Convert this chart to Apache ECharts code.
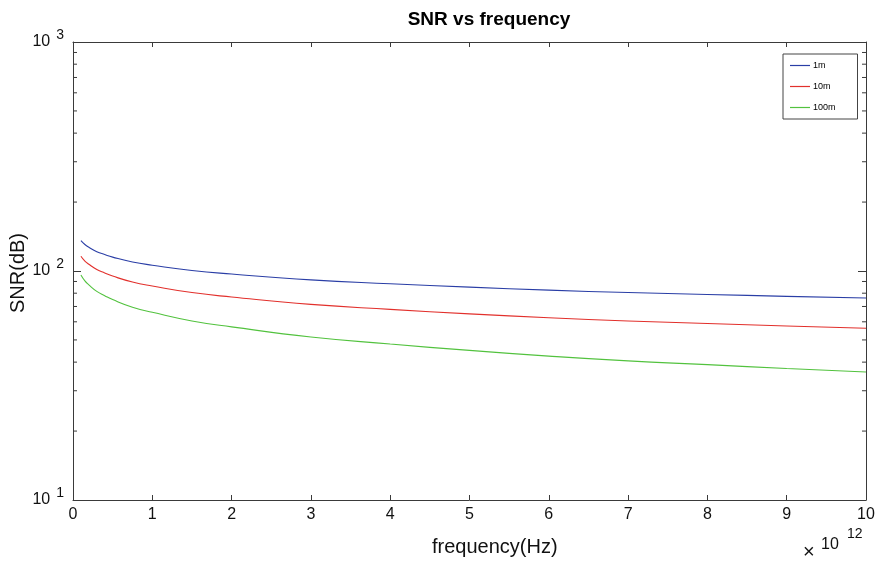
<!DOCTYPE html>
<html>
<head>
<meta charset="utf-8">
<script src="https://cdn.jsdelivr.net/npm/echarts@6/dist/echarts.min.js"></script>
<style>
  html, body { margin: 0; padding: 0; background: #fff; }
  #chart { width: 882px; height: 566px; }
</style>
</head>
<body>
<div id="chart"></div>
<script>
// Frequency samples (in units of 10^12 Hz)
const freqs = [0.1, 0.15, 0.2, 0.3, 0.4, 0.5, 0.75, 1, 1.5, 2, 3, 4, 5, 6, 7, 8, 9, 10];
// SNR (dB) at each distance
const snr1m   = [135.6, 130.5, 127, 121.5, 118, 115, 109.5, 106, 100.5, 97, 91.5, 88, 85, 82.5, 80.5, 79, 77.5, 76.2];
const snr10m  = [116, 110.5, 107, 101.5, 98, 95, 89.5, 86, 80.5, 77, 71.5, 68, 65, 62.5, 60.5, 59, 57.5, 56.2];
const snr100m = [96, 90.5, 87, 81.5, 78, 75, 69.5, 66, 60.5, 57, 51.5, 48, 45, 42.5, 40.5, 39, 37.5, 36.2];
const seriesNames = ['1m', '10m', '100m'];
const seriesColors = ['#2a3ea6', '#e2302c', '#52c23e'];
// Log-axis minor tick positions
const minorTicks = [20, 30, 40, 50, 60, 70, 80, 90, 200, 300, 400, 500, 600, 700, 800, 900];

const FONT = '"Liberation Sans", Arial, sans-serif';
const AXIS_COLOR = '#3a3a3a';

const pairs = (ys) => freqs.map((f, i) => [f, ys[i]]);

const lineSeries = [snr1m, snr10m, snr100m].map((ys, i) => ({
  name: seriesNames[i],
  type: 'line',
  data: pairs(ys),
  symbol: 'none',
  smooth: true,
  lineStyle: { width: 1.1, color: seriesColors[i] },
  itemStyle: { color: seriesColors[i] },
  xAxisIndex: 0,
  yAxisIndex: 0,
  z: 3
}));

// Short inward ticks at 2..9 x 10^n on both vertical edges
const minorTickSeries = {
  type: 'custom',
  silent: true,
  xAxisIndex: 0,
  yAxisIndex: 0,
  data: minorTicks.map(v => [0, v]),
  encode: { x: 0, y: 1 },
  renderItem: function (params, api) {
    const cs = params.coordSys;
    const y = api.coord([0, api.value(1)])[1];
    const style = { stroke: AXIS_COLOR, lineWidth: 1 };
    return {
      type: 'group',
      children: [
        { type: 'line', shape: { x1: cs.x, y1: y, x2: cs.x + 4, y2: y }, style: style },
        { type: 'line', shape: { x1: cs.x + cs.width, y1: y, x2: cs.x + cs.width - 4, y2: y }, style: style }
      ]
    };
  },
  z: 4
};

const chart = echarts.init(document.getElementById('chart'), null, { renderer: 'canvas' });

chart.setOption({
  animation: false,
  backgroundColor: '#ffffff',
  textStyle: { fontFamily: FONT },
  title: {
    text: 'SNR vs frequency',
    left: 484,
    textAlign: 'center',
    top: 5,
    textStyle: { fontFamily: FONT, fontSize: 19, fontWeight: 'bold', color: '#000' }
  },
  legend: {
    data: seriesNames,
    orient: 'vertical',
    left: 783,
    top: 54,
    icon: 'rect',
    itemWidth: 20,
    itemHeight: 1.2,
    itemGap: 10,
    padding: [6, 22, 6, 7],
    backgroundColor: '#fff',
    borderColor: '#444',
    borderWidth: 1,
    textStyle: { fontFamily: FONT, fontSize: 9, color: '#000', padding: [0, 0, 0, -2], lineHeight: 11 }
  },
  grid: { left: 73, right: 16, top: 42, bottom: 66, containLabel: false },
  xAxis: [
    {
      type: 'value',
      min: 0,
      max: 10,
      interval: 1,
      position: 'bottom',
      axisLine: { show: true, onZero: false, lineStyle: { color: AXIS_COLOR, width: 1 } },
      axisTick: { show: true, inside: true, length: 5, lineStyle: { color: AXIS_COLOR } },
      axisLabel: { color: '#111', fontSize: 16, fontFamily: FONT, margin: 7 },
      splitLine: { show: false }
    },
    {
      type: 'value',
      min: 0,
      max: 10,
      interval: 1,
      position: 'top',
      axisLine: { show: true, onZero: false, lineStyle: { color: AXIS_COLOR, width: 1 } },
      axisTick: { show: true, inside: true, length: 5, lineStyle: { color: AXIS_COLOR } },
      axisLabel: { show: false },
      splitLine: { show: false }
    }
  ],
  yAxis: [
    {
      type: 'log',
      logBase: 10,
      min: 10,
      max: 1000,
      position: 'left',
      axisLine: { show: true, onZero: false, lineStyle: { color: AXIS_COLOR, width: 1 } },
      axisTick: { show: true, inside: true, length: 8, lineStyle: { color: AXIS_COLOR } },
      axisLabel: {
        margin: 9,
        formatter: function (v) {
          return '{b|10}{s|' + Math.round(Math.log10(v)) + '}';
        },
        rich: {
          b: { fontSize: 16, color: '#111', fontFamily: FONT },
          s: { fontSize: 14, color: '#111', fontFamily: FONT, padding: [0, 0, 14, 6] }
        }
      },
      splitLine: { show: false }
    },
    {
      type: 'log',
      logBase: 10,
      min: 10,
      max: 1000,
      position: 'right',
      axisLine: { show: true, onZero: false, lineStyle: { color: AXIS_COLOR, width: 1 } },
      axisTick: { show: true, inside: true, length: 8, lineStyle: { color: AXIS_COLOR } },
      axisLabel: { show: false },
      splitLine: { show: false }
    }
  ],
  graphic: [
    {
      type: 'text',
      left: 432,
      top: 537,
      style: { text: 'frequency(Hz)', fontSize: 20, fontFamily: FONT, fill: '#111' }
    },
    {
      type: 'text',
      left: 8,
      top: 233,
      rotation: Math.PI / 2,
      style: { text: 'SNR(dB)', fontSize: 20, fontFamily: FONT, fill: '#111' }
    },
    {
      type: 'text',
      left: 803,
      top: 542,
      style: { text: '×', fontSize: 20, fontFamily: FONT, fill: '#111' }
    },
    {
      type: 'text',
      left: 821,
      top: 537,
      style: { text: '10', fontSize: 16, fontFamily: FONT, fill: '#111' }
    },
    {
      type: 'text',
      left: 847,
      top: 527,
      style: { text: '12', fontSize: 14, fontFamily: FONT, fill: '#111' }
    }
  ],
  series: lineSeries.concat([minorTickSeries])
});
</script>
</body>
</html>
